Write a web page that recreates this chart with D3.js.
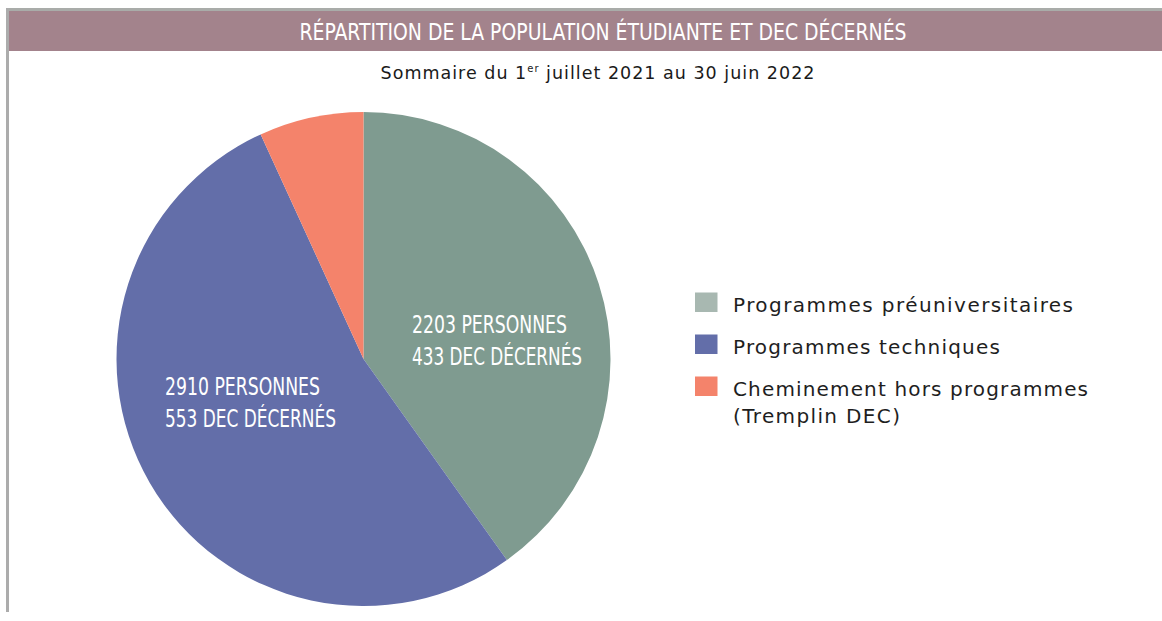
<!DOCTYPE html>
<html><head><meta charset="utf-8">
<script src="https://cdn.jsdelivr.net/npm/d3@7"></script>
<style>html,body{margin:0;padding:0;background:#fff;}</style>
</head><body>
<svg id="chart" width="1162" height="621"></svg>
<script>
const categories = ["Programmes préuniversitaires", "Programmes techniques", "Cheminement hors programmes"];
const legendLines = [["Programmes préuniversitaires"], ["Programmes techniques"], ["Cheminement hors programmes", "(Tremplin DEC)"]];
const personnes = [2203, 2910, 375];
const decDecernes = [433, 553, null];
const sliceColors = ["#7f9b90", "#636ea9", "#f4836b"];
const legendColors = ["#a8b8b1", "#636ea9", "#f4836b"];
const titleText = "RÉPARTITION DE LA POPULATION ÉTUDIANTE ET DEC DÉCERNÉS";

const svg = d3.select("#chart");

function fitWidth(sel, target) {
  const node = sel.node();
  const n = sel.text().length;
  const w = node.getComputedTextLength();
  const ls = (target - w) / Math.max(1, n - 1);
  sel.attr("letter-spacing", ls.toFixed(2));
}

// frame
svg.append("rect").attr("x", 6).attr("y", 8).attr("width", 1156).attr("height", 3).attr("fill", "#a9aca9");
svg.append("rect").attr("x", 6).attr("y", 8).attr("width", 3).attr("height", 604).attr("fill", "#acacac");
svg.append("rect").attr("x", 9).attr("y", 11).attr("width", 1153).attr("height", 40).attr("fill", "#a3838c");
svg.append("text").attr("x", 603).attr("y", 40).attr("text-anchor", "middle")
  .attr("font-family", "DejaVu Sans Condensed, DejaVu Sans").attr("font-stretch", "condensed")
  .attr("font-size", 23).attr("fill", "#fff")
  .attr("textLength", 607).attr("lengthAdjust", "spacingAndGlyphs").text(titleText);

const sub = svg.append("text").attr("x", 598).attr("y", 79).attr("text-anchor", "middle")
  .attr("font-family", "DejaVu Sans").attr("font-size", 17.5).attr("fill", "#1a1a1a");
sub.append("tspan").text("Sommaire du 1");
sub.append("tspan").attr("font-size", 10).attr("dy", -7).text("er");
sub.append("tspan").attr("dy", 7).text(" juillet 2021 au 30 juin 2022");
fitWidth(sub, 434);

// pie
const cx = 363.5, cy = 359, r = 247;
const pie = d3.pie().sort(null).value(d => d)(personnes);
const arc = d3.arc().innerRadius(0).outerRadius(r);
const g = svg.append("g").attr("transform", `translate(${cx},${cy})`);
g.selectAll("path").data(pie).join("path").attr("d", arc).attr("fill", (d, i) => sliceColors[i]);

const labelPos = [[412, 333], [165, 395]];
[0, 1].forEach(i => {
  const lines = [personnes[i] + " PERSONNES", decDecernes[i] + " DEC DÉCERNÉS"];
  const widths = [155, i === 0 ? 170 : 171];
  lines.forEach((t, j) => {
    svg.append("text").attr("x", labelPos[i][0]).attr("y", labelPos[i][1] + j * 32)
      .attr("font-family", "DejaVu Sans Condensed, DejaVu Sans").attr("font-stretch", "condensed")
      .attr("font-size", 25).attr("fill", "#fff")
      .attr("textLength", widths[j]).attr("lengthAdjust", "spacingAndGlyphs").text(t);
  });
});

// legend
const ly = [292.5, 334.5, 376.5];
const lineWidths = [[340], [267], [355, 167]];
categories.forEach((c, i) => {
  svg.append("rect").attr("x", 695).attr("y", ly[i]).attr("width", 22.5).attr("height", 19.5).attr("fill", legendColors[i]);
  legendLines[i].forEach((t, j) => {
    const tx = svg.append("text").attr("x", 733).attr("y", ly[i] + 19.5 + j * 26.5)
      .attr("font-family", "DejaVu Sans").attr("font-size", 20).attr("fill", "#1e1e1e").text(t);
    fitWidth(tx, lineWidths[i][j]);
  });
});
</script>
</body></html>
